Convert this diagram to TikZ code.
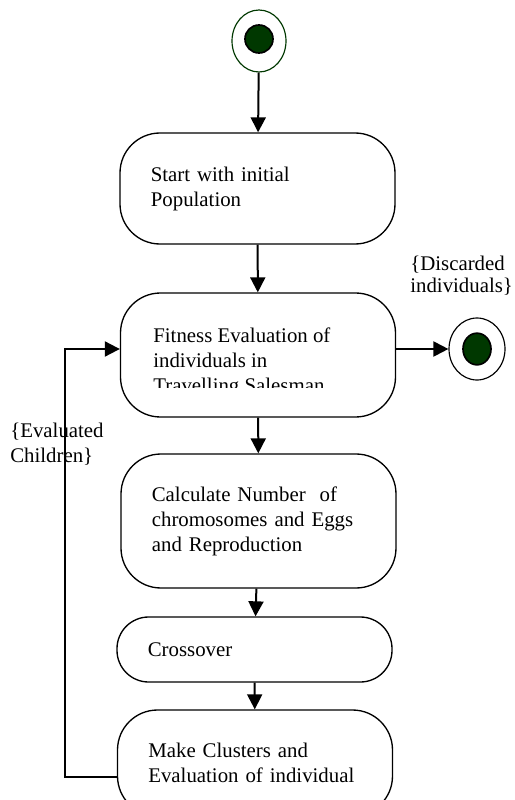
\documentclass[tikz,border=0pt]{standalone}
\usepackage{fontspec}
\setmainfont{Liberation Serif}
\usetikzlibrary{positioning,arrows.meta,shapes.geometric}
\definecolor{stategreen}{RGB}{0,56,0}
\hyphenpenalty=10000

\begin{document}
\begin{tikzpicture}[
  x=0.6pt, y=-0.6pt,
  font=\fontsize{12.5}{15}\selectfont,
  act/.style={rectangle, rounded corners=24pt, draw=black, line width=0.8pt,
              minimum width=165pt, text width=128pt, inner xsep=18.5pt, align=left},
  ring/.style={ellipse, draw=black, line width=0.7pt, fill=white,
               minimum width=33.6pt, minimum height=37.2pt, inner sep=0pt},
  dot/.style={ellipse, draw=black, line width=1pt, fill=stategreen,
              minimum width=16.8pt, minimum height=17.4pt, inner sep=0pt},
  flow/.style={-{Triangle[length=9pt,width=9pt]}, line width=1.2pt},
  note/.style={anchor=north west, inner sep=0pt, align=left}
]
\useasboundingbox (0,0) rectangle (514,800);

% initial and final states
\node[ring, draw=stategreen, minimum width=32.4pt] (startring) at (259,41) {};
\node[dot, minimum height=16.8pt] (startdot) at (259,39) {};
\node[ring] (endring) at (477,349) {};
\node[dot, minimum height=19pt] (enddot) at (477,349) {};

% activities
\node[act, minimum height=66.6pt] (init) at (257.5,188.5) {Start with initial\\ Population};
\node[act, minimum height=74.4pt] (fitness) at (258,355) {};
\begin{scope}
  \clip (120,293) rectangle (396,387);
  \node[note] (fittext) at (153,327.5) {Fitness Evaluation of\\ individuals in\\ Travelling Salesman};
\end{scope}
\node[act, minimum height=80.4pt] (calc) at (258.5,521) {Calculate Number\ \ of\\ chromosomes and Eggs\\ and Reproduction};
\node[act, rounded corners=19pt, minimum height=39pt] (cross) at (254.5,649.5) {Crossover};
\node[act, minimum height=63.6pt] (clust) at (255,763) {Make Clusters and\\ Evaluation of individual};

% guards
\node[note, font=\fontsize{12.5}{13.2}\selectfont] (discard) at (410,255.5) {\{Discarded\\ individuals\}};
\node[note] (evalchild) at (10,422.5) {\{Evaluated\\ Children\}};

% flows
\draw[flow] (startring) -- (init);
\draw[flow] (init) -- (fitness);
\draw[flow] (fitness) -- (calc);
\draw[flow] (calc) -- (cross);
\draw[flow] (cross) -- (clust);
\draw[flow] (fitness.east |- endring) -- (endring);

\coordinate (loopb) at (65,777);
\coordinate (loopt) at (65,349);
\draw[flow] (clust.west |- loopb) -- (loopb) -- (loopt) -- (fitness.west |- loopt);
\end{tikzpicture}
\end{document}
